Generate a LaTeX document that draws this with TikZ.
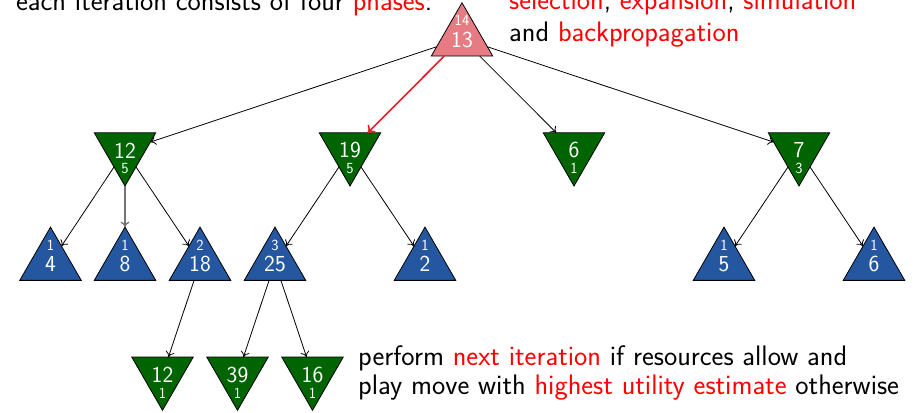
\documentclass[tikz,border=0pt]{standalone}
\usetikzlibrary{shapes.geometric,arrows.meta}
\definecolor{rootpink}{RGB}{231,123,131}
\definecolor{mingreen}{RGB}{0,100,0}
\definecolor{maxblue}{RGB}{37,87,160}
\definecolor{hlred}{RGB}{255,0,0}
\definecolor{selred}{RGB}{230,30,40}
\newcommand\hl[1]{\textcolor{hlred}{#1}}
\tikzset{
  tri/.style={regular polygon, regular polygon sides=3, minimum size=71bp,
    inner sep=0pt, outer sep=0pt, draw=black, line width=0.8bp},
  downtri/.style={tri, shape border rotate=180},
  bignum/.style={inner sep=0pt, text=white, font=\sffamily\fontsize{23}{27}\selectfont},
  smallnum/.style={inner sep=0pt, text=white, font=\sffamily\fontsize{15.5}{18}\selectfont},
  txt/.style={inner sep=0pt, anchor=base west, font=\sffamily\fontsize{28.3}{34}\selectfont},
  edge/.style={line width=0.8bp, -{To[length=5.5bp,width=9bp]}},
  seledge/.style={line width=1.6bp, draw=selred, -{To[length=6.5bp,width=11bp]}},
  grayedge/.style={edge, draw=black!55, line width=1.3bp}
}
\newcommand\uptri[6]{%
  \node[tri, fill=#6] (#1) at (#2,#3+35.6) {};
  \node[smallnum] (#1s) at (#2,#3+18) {#4};
  \node[bignum] (#1b) at (#2,#3+37) {#5};
}
\newcommand\dntri[5]{%
  \node[downtri, fill=mingreen] (#1) at (#2,#3+17.8) {};
  \node[bignum] (#1b) at (#2,#3+17.6) {#4};
  \node[smallnum] (#1s) at (#2,#3+36) {#5};
}
\begin{document}
\begin{tikzpicture}[x=1bp,y=-1bp]
\useasboundingbox (0,0) rectangle (919,412);
% texts
\node[txt] (t1) at (16,10) {each iteration consists of four \hl{phases}:};
\node[txt] (t2) at (509,9) {\hl{selection}, \hl{expansion}, \hl{simulation}};
\node[txt] (t3) at (509,41.7) {and \hl{backpropagation}};
\node[txt] (t4) at (358,365) {perform \hl{next iteration} if resources allow and};
\node[txt] (t5) at (358,394) {play move with \hl{highest utility estimate} otherwise};
% root
\uptri{r}{462}{2.7}{14}{13}{rootpink}
% level 1
\dntri{a}{125}{132.7}{12}{5}
\dntri{b}{350}{132.7}{19}{5}
\dntri{c}{574}{132.7}{6}{1}
\dntri{d}{799}{132.7}{7}{3}
% level 2
\uptri{a1}{50.5}{227}{1}{4}{maxblue}
\uptri{a2}{125}{227}{1}{8}{maxblue}
\uptri{a3}{200}{227}{2}{18}{maxblue}
\uptri{b1}{275}{227}{3}{25}{maxblue}
\uptri{b2}{425}{227}{1}{2}{maxblue}
\uptri{d1}{724}{227}{1}{5}{maxblue}
\uptri{d2}{874}{227}{1}{6}{maxblue}
% level 3
\dntri{e1}{162.5}{357}{12}{1}
\dntri{e2}{237.5}{357}{39}{1}
\dntri{e3}{312.5}{357}{16}{1}
% edges
\draw[edge] (r) -- (a);
\draw[seledge] (r) -- (b);
\draw[edge] (r) -- (c);
\draw[edge] (r) -- (d);
\draw[edge] (a) -- (a1);
\draw[grayedge] (a) -- (a2);
\draw[edge] (a) -- (a3);
\draw[edge] (b) -- (b1);
\draw[edge] (b) -- (b2);
\draw[edge] (d) -- (d1);
\draw[edge] (d) -- (d2);
\draw[edge] (a3) -- (e1);
\draw[edge] (b1) -- (e2);
\draw[edge] (b1) -- (e3);
\end{tikzpicture}
\end{document}
